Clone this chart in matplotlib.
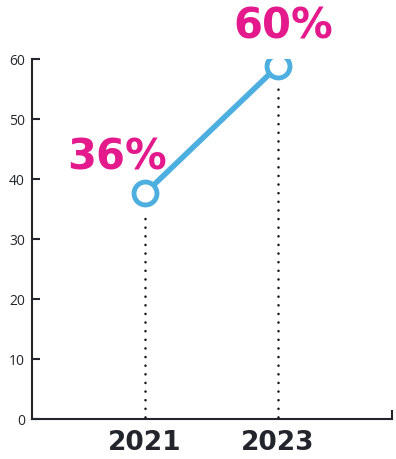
import matplotlib.pyplot as plt

years = ['2021', '2023']
values = [37.6, 58.8]          # position of the points on the y scale
labels = ['36%', '60%']        # printed labels
yticks = [0, 10, 20, 30, 40, 50, 60]

blue = '#4dafe0'
pink = '#e3198c'
dark = '#22262c'

fig = plt.figure(figsize=(3.96, 4.60), dpi=100)
ax = fig.add_axes([32 / 396, 40 / 460, 360 / 396, 360 / 460])

x = list(range(len(years)))

# dotted drop lines
for xi, v in zip(x, values):
    ax.plot([xi, xi], [0.4, v - 2.8], color='#111111', lw=1.8,
            linestyle=(0, (0.05, 3.4)), dash_capstyle='round', zorder=1)

ax.plot(x, values, color=blue, lw=4, zorder=2, solid_capstyle='round')
ax.plot(x, values, 'o', ms=16.5, mfc='white', mec=blue, mew=3.5, zorder=3)

for xi, v, lab, (dx, dy) in zip(x, values, labels, [(-0.21, 6.2), (0.04, 6.8)]):
    ax.text(xi + dx, v + dy, lab, color=pink, fontsize=30, fontweight='bold',
            ha='center', va='center', family='DejaVu Sans')

ax.set_xlim(-0.85, 1.86)
ax.set_ylim(0, 60)
ax.set_yticks(yticks)
ax.set_xticks(x)
ax.set_xticklabels(years, fontsize=19, fontweight='bold', color=dark, family='DejaVu Sans')
for t, dx in zip(ax.get_xticklabels(), [-0.05, 0.0]):
    pass
ax.tick_params(axis='x', length=0, pad=7)
ax.tick_params(axis='y', direction='in', length=6, width=1.5, color=dark,
               labelsize=10, labelcolor=dark, pad=5)
for t in ax.get_yticklabels():
    t.set_family('Open Sans')

ax.spines['top'].set_visible(False)
for s in ['left', 'bottom', 'right']:
    ax.spines[s].set_linewidth(1.5)
    ax.spines[s].set_color(dark)
ax.spines['right'].set_bounds(0, 1.3)
ax.patch.set_alpha(0)

fig.savefig('out.png', dpi=100)
